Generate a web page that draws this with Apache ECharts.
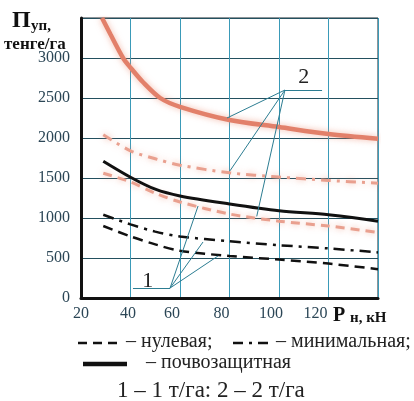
<!DOCTYPE html>
<html><head><meta charset="utf-8">
<script src="https://cdn.jsdelivr.net/npm/echarts@6/dist/echarts.min.js"></script>
<style>html,body{margin:0;padding:0;background:#fff}#c{width:414px;height:401px}</style>
</head><body><div id="c"></div>
<script>
// ---- data ----
var xTicks = [20, 40, 60, 80, 100, 120, 140];
var yTicks = [0, 500, 1000, 1500, 2000, 2500, 3000, 3500];
var xTop = [28.5, 32, 37, 40, 45, 52, 60, 80, 100, 120, 140];
var redSolid = [3500, 3290, 3000, 2880, 2700, 2500, 2390, 2225, 2137, 2050, 1990]; // 2 т/га почвозащитная
var xs = [29, 40, 50, 60, 80, 100, 120, 140];
var redDashDot = [2040, 1840, 1740, 1660, 1565, 1512, 1470, 1435];          // 2 т/га минимальная
var redDashed = [1560, 1450, 1310, 1200, 1050, 960, 900, 820];              // 2 т/га нулевая
var blackSolid = [1710, 1510, 1360, 1275, 1175, 1090, 1040, 960];           // 1 т/га почвозащитная
var blackDashDot = [1040, 920, 830, 770, 710, 660, 620, 570];               // 1 т/га минимальная
var blackDashed = [900, 770, 670, 590, 525, 480, 430, 360];                 // 1 т/га нулевая
// annotation leader lines (data coords)
var lead1 = {label: '1', at: [47, 215], knee: [56, 125], start: [41, 125],
  targets: [[67.3, 1150], [69.3, 700], [75.4, 526]]};
var lead2 = {label: '2', at: [110, 2760], knee: [102.4, 2600], end: [117.4, 2600],
  targets: [[79, 2250], [80.2, 1590], [91, 1020]]};

function pairs(x, y) { return x.map(function (v, i) { return [v, y[i]]; }); }

var serif = "'Liberation Serif', 'DejaVu Serif'";
var chart = echarts.init(document.getElementById('c'), null, {renderer: 'canvas'});

function lineSeries(x, y, color, width, type, glow) {
  return {
    type: 'line', data: pairs(x, y), smooth: 0.3, showSymbol: false, silent: true,
    clip: true,
    lineStyle: {color: color, width: width, type: type,
      shadowColor: glow ? 'rgba(235,140,115,0.6)' : 'transparent', shadowBlur: glow ? 6 : 0}
  };
}

function leaderLines(L, underline) {
  var d = [];
  d.push([{coord: underline[0]}, {coord: underline[1]}]);
  L.targets.forEach(function (t) { d.push([{coord: L.knee}, {coord: t}]); });
  return d;
}

var ann = {
  type: 'line', data: [], silent: true,
  markLine: {
    silent: true, symbol: ['none', 'none'], label: {show: false},
    lineStyle: {color: '#2c7d92', width: 1, type: 'solid'},
    data: leaderLines(lead1, [lead1.start, lead1.knee]).concat(leaderLines(lead2, [lead2.knee, lead2.end]))
  },
  markPoint: {
    silent: true, symbol: 'circle', symbolSize: 0,
    label: {show: true, fontFamily: serif, fontSize: 22, color: '#222', formatter: '{b}'},
    data: [{name: lead1.label, coord: lead1.at}, {name: lead2.label, coord: lead2.at}]
  }
};

var labelRich = {
  s0: {fontFamily: serif, fontSize: 16, color: '#2b4656', padding: [0, 0, 0, 0]},
  s1: {fontFamily: serif, fontSize: 16, color: '#2b4656', padding: [0, 5, 0, 0]},
  s2: {fontFamily: serif, fontSize: 16, color: '#2b4656', padding: [0, 16, 0, 0]},
  s3: {fontFamily: serif, fontSize: 16, color: '#2b4656', padding: [0, 26, 0, 0]}
};
var labelClass = {20: 's0', 40: 's1', 60: 's2', 80: 's2', 100: 's2', 120: 's3'};

var option = {
  backgroundColor: '#fff',
  animation: false,
  textStyle: {fontFamily: serif},
  grid: {left: 81, right: 36, top: 18, bottom: 103, show: true, borderColor: '#1d2a33', borderWidth: 1},
  xAxis: {
    type: 'value', min: xTicks[0], max: xTicks[xTicks.length - 1], interval: 20,
    axisLine: {show: true, lineStyle: {color: '#111', width: 3}},
    axisTick: {show: false},
    splitLine: {show: true, lineStyle: {color: '#3a9ab8', width: 1}},
    axisLabel: {fontFamily: serif, fontSize: 16, color: '#2b4656', margin: 8, rich: labelRich,
      formatter: function (v) { return v === 140 ? '' : '{' + labelClass[v] + '|' + v + '}'; }}
  },
  yAxis: {
    type: 'value', min: yTicks[0], max: yTicks[yTicks.length - 1], interval: 500,
    axisLine: {show: true, lineStyle: {color: '#111', width: 3}},
    axisTick: {show: false},
    splitLine: {show: true, lineStyle: {color: '#23505f', width: 1}},
    axisLabel: {fontFamily: serif, fontSize: 16, color: '#2b4656', margin: 11, padding: [3, 0, 0, 0],
      formatter: function (v) { return v === 3500 ? '' : String(v); }}
  },
  graphic: [
    {type: 'text', left: 12, top: 9, style: {text: 'П', fontFamily: serif, fontSize: 24, fontWeight: 'bold', fill: '#111'}},
    {type: 'text', left: 31, top: 19, style: {text: 'уп,', fontFamily: serif, fontSize: 15, fontWeight: 'bold', fill: '#111'}},
    {type: 'text', left: 4, top: 36, style: {text: 'тенге/га', fontFamily: serif, fontSize: 17, fontWeight: 'bold', fill: '#111'}},
    {type: 'text', left: 333, top: 306, style: {text: 'P', fontFamily: serif, fontSize: 20, fontWeight: 'bold', fill: '#111'}},
    {type: 'text', left: 350, top: 311, style: {text: 'н, кН', fontFamily: serif, fontSize: 15, fontWeight: 'bold', fill: '#111'}},
    // legend row 1
    {type: 'line', shape: {x1: 78, y1: 343, x2: 120, y2: 343}, style: {stroke: '#111', lineWidth: 2.5, lineDash: [9, 6]}},
    {type: 'text', left: 126, top: 332, style: {text: '– нулевая;', fontFamily: serif, fontSize: 20, fill: '#222'}},
    {type: 'line', shape: {x1: 233, y1: 343, x2: 269, y2: 343}, style: {stroke: '#111', lineWidth: 2.5, lineDash: [10, 6, 3, 6]}},
    {type: 'text', left: 276, top: 332, style: {text: '– минимальная;', fontFamily: serif, fontSize: 20, fill: '#222'}},
    // legend row 2
    {type: 'line', shape: {x1: 83, y1: 364, x2: 127, y2: 364}, style: {stroke: '#111', lineWidth: 4.5}},
    {type: 'text', left: 146, top: 353, style: {text: '– почвозащитная', fontFamily: serif, fontSize: 20, fill: '#222'}},
    // legend row 3
    {type: 'text', left: 117, top: 379, style: {text: '1 – 1 т/га: 2 – 2 т/га', fontFamily: serif, fontSize: 23, fill: '#222'}}
  ],
  series: [
    lineSeries(xTop, redSolid, '#e2806a', 4.5, 'solid', true),
    lineSeries(xs, redDashDot, '#e9a08f', 3, [10, 6, 3, 6], true),
    lineSeries(xs, redDashed, '#e9a08f', 3, [9, 6], true),
    lineSeries(xs, blackSolid, '#111', 3, 'solid', false),
    lineSeries(xs, blackDashDot, '#111', 2.5, [11, 6, 3, 6], false),
    lineSeries(xs, blackDashed, '#111', 2.5, [10, 6], false),
    ann
  ]
};
chart.setOption(option);
</script></body></html>
